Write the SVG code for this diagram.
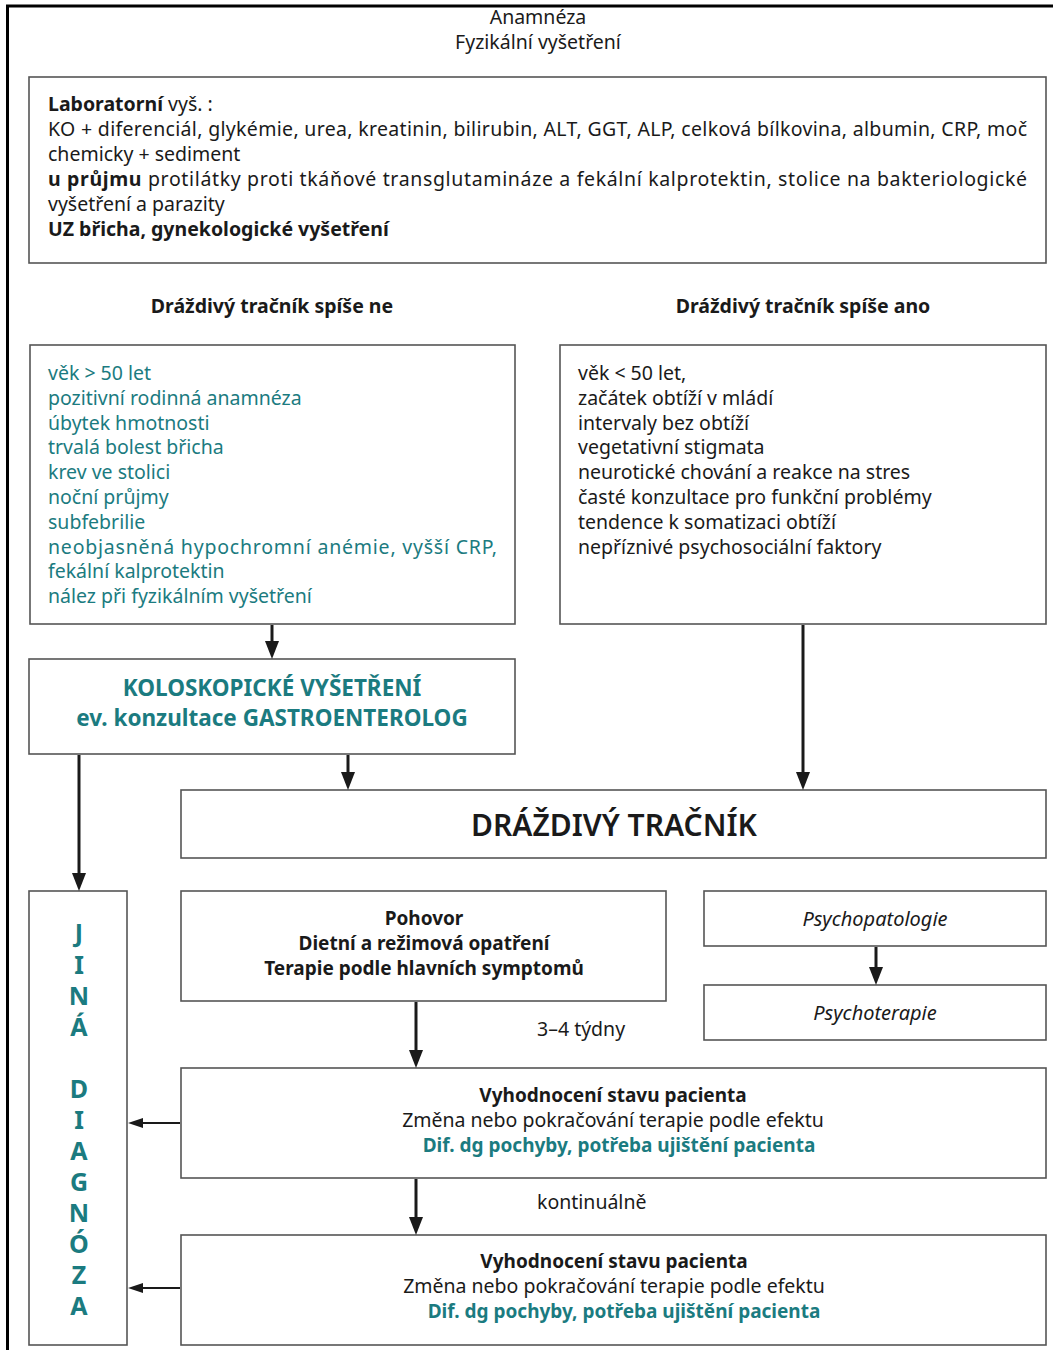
<svg xmlns="http://www.w3.org/2000/svg" width="1053" height="1350" viewBox="0 0 1053 1350">
<defs>
<style>
text{font-family:"Noto Sans","Open Sans","Liberation Sans",sans-serif;fill:#1a1a1a;font-size:19.5px}
.box{fill:#fff;stroke:#555;stroke-width:1.6}
.b{font-weight:bold}
.c{text-anchor:middle}
.teal{fill:#1b7b80}
.it{font-style:italic}
.conn{stroke:#1a1a1a;fill:none}
.thick{stroke-width:3}
.thin{stroke-width:2}
.let{font-size:25px;font-weight:bold;fill:#1b7b80;text-anchor:middle}
</style>
<marker id="av" viewBox="0 0 18 14" refX="2" refY="7" markerWidth="18" markerHeight="14" markerUnits="userSpaceOnUse" orient="auto"><path d="M0,0 L18,7 L0,14 z" fill="#1a1a1a"/></marker>
<marker id="ah" viewBox="0 0 15 10" refX="2" refY="5" markerWidth="15" markerHeight="10" markerUnits="userSpaceOnUse" orient="auto"><path d="M0,0 L15,5 L0,10 z" fill="#1a1a1a"/></marker>
</defs>
<rect width="1053" height="1350" fill="#fff"/>
<path d="M7.5,1350 V6 H1053" fill="none" stroke="#000" stroke-width="3"/>

<g id="header">
<text class="c" x="538" y="24">Anamnéza</text>
<text class="c" x="538" y="49">Fyzikální vyšetření</text>
</g>

<g id="lab">
<rect class="box" x="29" y="77" width="1017" height="186"/>
<text x="48" y="111"><tspan class="b">Laboratorní</tspan> vyš. :</text>
<text x="48" y="136" textLength="979" lengthAdjust="spacing">KO + diferenciál, glykémie, urea, kreatinin, bilirubin, ALT, GGT, ALP, celková bílkovina, albumin, CRP, moč</text>
<text x="48" y="161">chemicky + sediment</text>
<text x="48" y="186" textLength="979" lengthAdjust="spacing"><tspan class="b">u průjmu</tspan> protilátky proti tkáňové transglutamináze a fekální kalprotektin, stolice na bakteriologické</text>
<text x="48" y="211">vyšetření a parazity</text>
<text class="b" x="48" y="236">UZ břicha, gynekologické vyšetření</text>
</g>

<g id="head-ne"><text class="b c" x="272" y="313">Dráždivý tračník spíše ne</text></g>
<g id="head-ano"><text class="b c" x="803" y="313">Dráždivý tračník spíše ano</text></g>

<g id="spise-ne">
<rect class="box" x="30" y="345" width="485" height="279"/>
<text class="teal" x="48" y="380">věk &gt; 50 let</text>
<text class="teal" x="48" y="404.8">pozitivní rodinná anamnéza</text>
<text class="teal" x="48" y="429.6">úbytek hmotnosti</text>
<text class="teal" x="48" y="454.4">trvalá bolest břicha</text>
<text class="teal" x="48" y="479.2">krev ve stolici</text>
<text class="teal" x="48" y="504">noční průjmy</text>
<text class="teal" x="48" y="528.8">subfebrilie</text>
<text class="teal" x="48" y="553.6" textLength="449" lengthAdjust="spacing">neobjasněná hypochromní anémie, vyšší CRP,</text>
<text class="teal" x="48" y="578.4">fekální kalprotektin</text>
<text class="teal" x="48" y="603.2">nález při fyzikálním vyšetření</text>
</g>

<g id="spise-ano">
<rect class="box" x="560" y="345" width="486" height="279"/>
<text x="578" y="380">věk &lt; 50 let,</text>
<text x="578" y="404.8">začátek obtíží v mládí</text>
<text x="578" y="429.6">intervaly bez obtíží</text>
<text x="578" y="454.4">vegetativní stigmata</text>
<text x="578" y="479.2">neurotické chování a reakce na stres</text>
<text x="578" y="504">časté konzultace pro funkční problémy</text>
<text x="578" y="528.8">tendence k somatizaci obtíží</text>
<text x="578" y="553.6">nepříznivé psychosociální faktory</text>
</g>

<g id="koloskopie">
<rect class="box" x="29" y="659" width="486" height="95"/>
<text class="b c teal" style="font-size:22.5px" x="272" y="696">KOLOSKOPICKÉ VYŠETŘENÍ</text>
<text class="b c teal" style="font-size:22.5px" x="272" y="726">ev. konzultace GASTROENTEROLOG</text>
</g>

<g id="drazdivy">
<rect class="box" x="181" y="790" width="865" height="68"/>
<text class="c" style="font-size:30px;font-weight:600" x="614" y="836">DRÁŽDIVÝ TRAČNÍK</text>
</g>

<g id="jina-diagnoza">
<rect class="box" x="29" y="891" width="98" height="454"/>
<text class="let" x="79" y="942">J</text>
<text class="let" x="79" y="974">I</text>
<text class="let" x="79" y="1005">N</text>
<text class="let" x="79" y="1036">Á</text>
<text class="let" x="79" y="1098">D</text>
<text class="let" x="79" y="1129">I</text>
<text class="let" x="79" y="1160">A</text>
<text class="let" x="79" y="1191">G</text>
<text class="let" x="79" y="1222">N</text>
<text class="let" x="79" y="1253">Ó</text>
<text class="let" x="79" y="1284">Z</text>
<text class="let" x="79" y="1315">A</text>
</g>

<g id="pohovor">
<rect class="box" x="181" y="891" width="485" height="110"/>
<text class="b c" style="font-size:19px" x="424" y="925">Pohovor</text>
<text class="b c" style="font-size:19px" x="424" y="950">Dietní a režimová opatření</text>
<text class="b c" style="font-size:19px" x="424" y="975">Terapie podle hlavních symptomů</text>
</g>

<g id="psychopatologie">
<rect class="box" x="704" y="891" width="342" height="55"/>
<text class="it c" style="font-size:20px" x="875" y="926">Psychopatologie</text>
</g>

<g id="psychoterapie">
<rect class="box" x="704" y="985" width="342" height="55"/>
<text class="it c" style="font-size:20px" x="875" y="1020">Psychoterapie</text>
</g>

<g id="vyhodnoceni-1">
<rect class="box" x="181" y="1068" width="865" height="110"/>
<text class="b c" style="font-size:19px" x="613" y="1102">Vyhodnocení stavu pacienta</text>
<text class="c" x="613" y="1127">Změna nebo pokračování terapie podle efektu</text>
<text class="b c teal" style="font-size:19px" x="619" y="1152">Dif. dg pochyby, potřeba ujištění pacienta</text>
</g>

<g id="vyhodnoceni-2">
<rect class="box" x="181" y="1235" width="865" height="110"/>
<text class="b c" style="font-size:19px" x="614" y="1268">Vyhodnocení stavu pacienta</text>
<text class="c" x="614" y="1293">Změna nebo pokračování terapie podle efektu</text>
<text class="b c teal" style="font-size:19px" x="624" y="1318">Dif. dg pochyby, potřeba ujištění pacienta</text>
</g>

<g id="labels">
<text x="537" y="1036">3–4 týdny</text>
<text x="537" y="1209">kontinuálně</text>
</g>

<g id="connectors">
<line class="conn thick" x1="272" y1="625" x2="272" y2="643" marker-end="url(#av)"/>
<line class="conn thick" x1="348" y1="755" x2="348" y2="774" marker-end="url(#av)"/>
<line class="conn thick" x1="79" y1="755" x2="79" y2="875" marker-end="url(#av)"/>
<line class="conn thick" x1="803" y1="625" x2="803" y2="774" marker-end="url(#av)"/>
<line class="conn thick" x1="416" y1="1002" x2="416" y2="1052" marker-end="url(#av)"/>
<line class="conn thick" x1="876" y1="947" x2="876" y2="969" marker-end="url(#av)"/>
<line class="conn thick" x1="416" y1="1179" x2="416" y2="1219" marker-end="url(#av)"/>
<line class="conn thin" x1="180" y1="1123" x2="141" y2="1123" marker-end="url(#ah)"/>
<line class="conn thin" x1="180" y1="1288" x2="141" y2="1288" marker-end="url(#ah)"/>
</g>
</svg>
